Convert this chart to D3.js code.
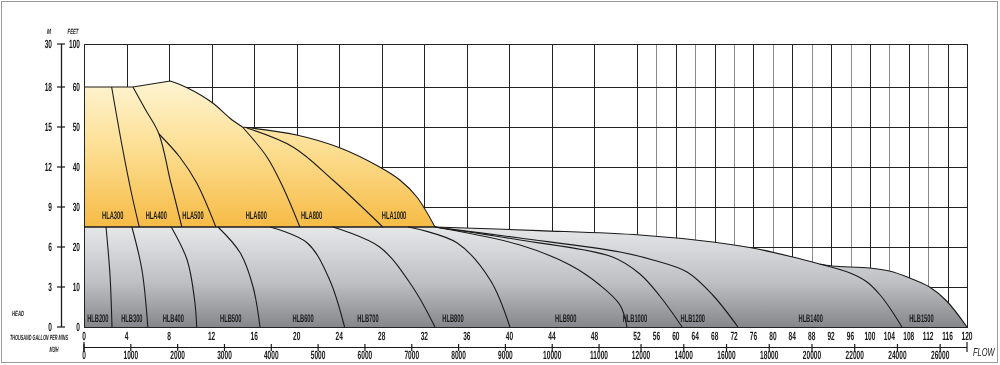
<!DOCTYPE html>
<html><head><meta charset="utf-8">
<script src="https://cdn.jsdelivr.net/npm/d3@7"></script>
<style>
html,body{margin:0;padding:0;background:#fff;}
svg{display:block;will-change:transform;}
text{font-family:"Liberation Sans",Arial,sans-serif;fill:#1a1a1a;text-rendering:geometricPrecision;-webkit-font-smoothing:antialiased;}
</style></head>
<body>
<svg id="c" width="1000" height="365"></svg>
<script>
// ---- tick labels ----
const flowTicks = [0,4,8,12,16,20,24,28,32,36,40,44,48,52,56,60,64,68,72,76,80,84,88,92,96,100,104,108,112,116,120];
const m3hTicks = [0,1000,2000,3000,4000,5000,6000,7000,8000,9000,10000,11000,12000,14000,16000,18000,20000,22000,24000,26000];
const feetTicks = [0,10,20,30,40,50,60,100];
const meterTicks = [0,3,6,9,12,15,18,30];

// ---- HLA (yellow) series: [thousand gpm, feet] ----
const hlaEnvelopeFlat = [[0,60],[4.6,60],[8.1,65.6]];
const hlaEnvelopeDrop = [[8.1,65.6],[9.7,59.8],[12.1,56],[13.7,52.25],[14.9,50]];
const hlaEnvelopeTail = [[14.9,50],[20,48],[24.1,44.75],[27.8,40],[29.7,36.75],[31.3,32.5],[33,25]];
const hla300 = [[2.6,60],[3.6,45],[4.5,33],[5.2,25]];
const hla400 = [[4.6,60],[5.8,54.25],[7.05,48.25],[8.1,36.75],[8.65,31],[9.2,25]];
const hla500 = [[7.05,48.25],[9.0,42.5],[10.6,36],[12.4,25]];
const hla600 = [[14.9,50],[17.2,42.5],[18.7,35],[20.3,25]];
const hla800 = [[15.3,49.75],[19.65,45],[23.4,36.75],[28.1,25]];
const hlaBase = 25;
const hlaNames = ["HLA300","HLA400","HLA500","HLA600","HLA800","HLA1000"];
const hlaLabelFlow = [2.7,6.8,10.25,16.2,21.4,29.15];
const hlaLabelHead = 28;

// ---- HLB (grey) series ----
const hlbEnvelopeA = [[33,25],[42.8,24.1],[52.6,23],[67.6,21.25],[75.8,19.75],[84.1,17.5],[89.6,15.75]];
const hlbEnvelopeB = [[89.6,15.75],[92.3,15.25],[99.9,14.75],[104,14],[108.2,12.25],[112.3,10],[115.8,6.5],[120,0]];
const hlb200 = [[2.07,25],[2.45,12.75],[2.63,0]];
const hlb300 = [[4.5,25],[5.45,14.25],[6.0,0]];
const hlb400 = [[8.2,25],[9.7,16.75],[10.4,6.75],[10.6,0]];
const hlb500 = [[12.6,25],[14.7,18.5],[15.9,10],[16.55,0]];
const hlb600 = [[17.5,25],[21,21],[23.1,11.75],[24.5,0]];
const hlb700 = [[23.4,25],[27.8,20],[30.9,10],[33.0,0]];
const hlb800 = [[30.5,25],[35.1,21],[38.2,11.75],[40.05,0]];
const hlb900 = [[33,25],[41,20.5],[45.7,15.5],[48.5,10.5],[50.4,5.5],[51.06,0]];
const hlb1000 = [[33,25],[41,21.75],[49.7,17.5],[52.6,13.25],[56.7,7.75],[61.3,0]];
const hlb1200 = [[33,25],[41,22.25],[50.4,18.75],[55.3,16.75],[62.3,13.75],[67.6,8],[72.8,0]];
const hlb1400 = [[89.6,15.75],[95.9,13.5],[99.4,11.25],[102.1,8],[104.1,4.75],[106.6,0]];
const hlbNames = ["HLB200","HLB300","HLB400","HLB500","HLB600","HLB700","HLB800","HLB900","HLB1000","HLB1200","HLB1400","HLB1500"];
const hlbLabelFlow = [1.3,4.5,8.4,13.8,20.6,26.7,34.7,45.3,51.8,63.5,87.8,110.6];
const hlbLabelHead = 2.3;

const m3hPerKgpm = 1000/4.402868; // m3/h per thousand US gpm

// ---- scales ----
const x = d3.scaleLinear().domain([0,52,120]).range([84,637,967]);
const y = d3.scaleLinear().domain([0,60,100]).range([327,87,44]);
const xm = d3.scaleLinear().domain([0,52*m3hPerKgpm,120*m3hPerKgpm]).range([84,637,967]);

const svg = d3.select("#c");
const defs = svg.append("defs");
const gy = defs.append("linearGradient").attr("id","gy").attr("x1",0).attr("y1",0).attr("x2",0).attr("y2",1);
gy.append("stop").attr("offset","0%").attr("stop-color","#fef4d2");
gy.append("stop").attr("offset","45%").attr("stop-color","#fcdf94");
gy.append("stop").attr("offset","100%").attr("stop-color","#f6bb46");
const gg = defs.append("linearGradient").attr("id","gg").attr("x1",0).attr("y1",0).attr("x2",0).attr("y2",1);
gg.append("stop").attr("offset","0%").attr("stop-color","#e6e7e9");
gg.append("stop").attr("offset","55%").attr("stop-color","#bfc0c3");
gg.append("stop").attr("offset","100%").attr("stop-color","#86878b");

// condensed text helper: horizontal squeeze via transform
function ctext(g, px, py, str, anchor, size, opts){
  opts = opts || {};
  const t = g.append("text").attr("x",0).attr("y",0)
    .attr("text-anchor",anchor).attr("font-size",size).text(str);
  if(opts.italic) t.attr("font-style","italic");
  t.attr("font-weight", opts.weight || "bold");
  let s = opts.sx || 0.55;
  if(opts.len){ s = opts.len / t.node().getComputedTextLength(); }
  t.attr("transform",`translate(${px},${py}) scale(${s.toFixed(4)},1)`);
  return t;
}

// outer frame
svg.append("rect").attr("x",1.5).attr("y",1.5).attr("width",996).attr("height",361)
  .attr("fill","none").attr("stroke","#9a9a9a").attr("stroke-width",1);

// grid
const grid = svg.append("g");
flowTicks.forEach(t=>{
  const light = t>52 && (t%8===0);
  grid.append("line").attr("x1",Math.round(x(t))+0.5).attr("x2",Math.round(x(t))+0.5)
    .attr("y1",y(100)).attr("y2",y(0))
    .attr("stroke", light ? "#8a8a8a" : "#222").attr("stroke-width",1);
});
feetTicks.forEach(t=>{
  grid.append("line").attr("x1",x(0)).attr("x2",x(120))
    .attr("y1",Math.round(y(t))+0.5).attr("y2",Math.round(y(t))+0.5)
    .attr("stroke","#222").attr("stroke-width",1);
});

const toPx = pts => pts.map(d=>[x(d[0]),y(d[1])]);
const smooth = d3.line().curve(d3.curveCatmullRom.alpha(0.5));
const straight = d3.line();
const join = (...parts) => parts.map((p,i)=> i===0 ? p : p.replace(/^M/,"L")).join("");

// grey area
const greyTop = join(smooth(toPx(hlbEnvelopeA)), smooth(toPx(hlbEnvelopeB)));
const greyPath = straight(toPx([[0,0],[0,hlaBase],[33,hlaBase]])) + greyTop.replace(/^M/,"L") + "Z";
svg.append("path").attr("d",greyPath).attr("fill","url(#gg)");
svg.append("path").attr("d",greyTop).attr("fill","none").attr("stroke","#1a1a1a").attr("stroke-width",1.1);

// yellow area
const yellowTop = join(straight(toPx(hlaEnvelopeFlat)), smooth(toPx(hlaEnvelopeDrop)), smooth(toPx(hlaEnvelopeTail)));
const yellowPath = yellowTop + straight(toPx([[33,hlaBase],[0,hlaBase]])).replace(/^M/,"L") + "Z";
svg.append("path").attr("d",yellowPath).attr("fill","url(#gy)");
svg.append("path").attr("d",yellowTop).attr("fill","none").attr("stroke","#1a1a1a").attr("stroke-width",1.1);
svg.append("line").attr("x1",x(0)).attr("x2",x(33)).attr("y1",y(hlaBase)).attr("y2",y(hlaBase))
  .attr("stroke","#1a1a1a").attr("stroke-width",1.3);

// curves
[hla300,hla400,hla500,hla600,hla800,hlb200,hlb300,hlb400,hlb500,hlb600,hlb700,hlb800,hlb900,hlb1000,hlb1200,hlb1400]
  .forEach(c=>{
    svg.append("path").attr("d",smooth(toPx(c))).attr("fill","none")
      .attr("stroke","#1a1a1a").attr("stroke-width",1.1);
  });

// plot frame
svg.append("rect").attr("x",x(0)+0.5).attr("y",y(100)+0.5).attr("width",x(120)-x(0)).attr("height",y(0)-y(100))
  .attr("fill","none").attr("stroke","#222").attr("stroke-width",1);

// series labels
const lab = svg.append("g");
hlaNames.forEach((n,i)=> ctext(lab, x(hlaLabelFlow[i]), y(hlaLabelHead)+4, n, "middle", 11, {sx:0.52}));
hlbNames.forEach((n,i)=> ctext(lab, x(hlbLabelFlow[i]), y(hlbLabelHead)+4, n, "middle", 11, {sx:0.52}));

// left axis
const la = svg.append("g");
la.append("line").attr("x1",61.5).attr("x2",61.5).attr("y1",y(100)).attr("y2",y(0)).attr("stroke","#1a1a1a").attr("stroke-width",1.3);
feetTicks.forEach((t,i)=>{
  la.append("line").attr("x1",57).attr("x2",65).attr("y1",y(t)).attr("y2",y(t)).attr("stroke","#1a1a1a").attr("stroke-width",1.2);
  ctext(la, 80, y(t)+4, t, "end", 12);
  ctext(la, 52, y(t)+4, meterTicks[i], "end", 12);
});
const sm = svg.append("g");
ctext(sm, 49, 34, "M", "middle", 7.5, {italic:true, len:4});
ctext(sm, 73, 34, "FEET", "middle", 7.5, {italic:true, len:11});
ctext(sm, 18, 316, "HEAD", "middle", 7.5, {italic:true, len:12});
ctext(sm, 10, 340, "THOUSAND GALLON PER MINS", "start", 7.5, {italic:true, len:58});
ctext(sm, 54, 352, "M3/H", "middle", 7.5, {italic:true, len:9});

// flow (thousand gpm) labels
const fl = svg.append("g");
flowTicks.forEach(t=> ctext(fl, x(t), 340, t, "middle", 12));

// m3/h axis
const ba = svg.append("g");
ba.append("line").attr("x1",x(0)).attr("x2",x(120)).attr("y1",347.5).attr("y2",347.5).attr("stroke","#1a1a1a").attr("stroke-width",1);
[x(0),x(120)].forEach(px=>{
  ba.append("line").attr("x1",px).attr("x2",px).attr("y1",342).attr("y2",352).attr("stroke","#1a1a1a").attr("stroke-width",1.2);
});
m3hTicks.forEach(t=>{
  ba.append("line").attr("x1",xm(t)).attr("x2",xm(t)).attr("y1",344).attr("y2",351).attr("stroke","#1a1a1a").attr("stroke-width",1.2);
  ctext(ba, xm(t), 359, t, "middle", 12);
});
ctext(svg, 973, 356, "FLOW", "start", 11.5, {italic:true, sx:0.65, weight:"normal"});
</script>
</body></html>
